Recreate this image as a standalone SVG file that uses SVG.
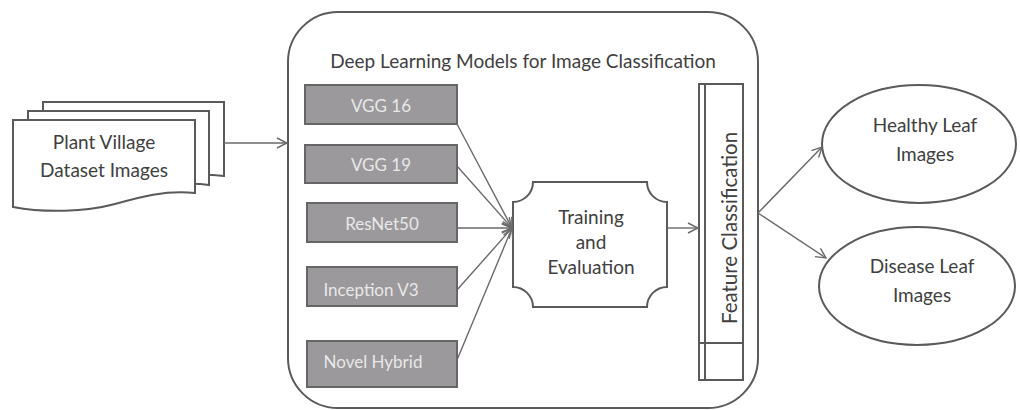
<svg xmlns="http://www.w3.org/2000/svg" width="1020" height="410" viewBox="0 0 1020 410">
<defs>
<style>
.shape{fill:#fff;stroke:#5a5a5a;stroke-width:2}
.model{fill:#9b999c;stroke:#666;stroke-width:2}
.t{font-family:Lato,"Open Sans",sans-serif;font-size:19px;fill:#404040;text-anchor:middle}
.mt{font-family:Lato,"Open Sans",sans-serif;font-size:17px;fill:#e8e8e8;text-anchor:middle}
.conn{fill:none;stroke:#6a6a6a;stroke-width:1.4}
</style>
<marker id="arr" viewBox="0 0 12 12" refX="11" refY="6" markerWidth="12" markerHeight="12" markerUnits="userSpaceOnUse" orient="auto">
<path d="M1,1 L11,6 L1,11" fill="none" stroke="#6a6a6a" stroke-width="1.4"/>
</marker>
</defs>
<rect width="1020" height="410" fill="#fff"/>

<g id="dataset">
<path class="shape" d="M43,102 H224 V176 C190,172 160,178 130,184 L43,184 Z"/>
<path class="shape" d="M28,111 H209 V185 C180,181 150,188 120,194 L28,194 Z"/>
<path class="shape" d="M13,120 H195 V193 C165,190 140,197 115,204 C85,212 45,213 13,207 Z"/>
<text class="t" x="104" y="149">Plant Village</text>
<text class="t" x="104" y="177">Dataset Images</text>
</g>

<g id="container">
<rect class="shape" x="288" y="12" width="470" height="396" rx="50" ry="50"/>
<text class="t" x="523" y="68">Deep Learning Models for Image Classification</text>
</g>

<g id="vgg16">
<rect class="model" x="305" y="85" width="152" height="39"/>
<text class="mt" x="381" y="112">VGG 16</text>
</g>
<g id="vgg19">
<rect class="model" x="305" y="145" width="152" height="38"/>
<text class="mt" x="381" y="171">VGG 19</text>
</g>
<g id="resnet50">
<rect class="model" x="307" y="203" width="150" height="39"/>
<text class="mt" x="382" y="230">ResNet50</text>
</g>
<g id="inception">
<rect class="model" x="307" y="267" width="150" height="39"/>
<text class="mt" x="371" y="296">Inception V3</text>
</g>
<g id="hybrid">
<rect class="model" x="307" y="341" width="150" height="46"/>
<text class="mt" x="373" y="368">Novel Hybrid</text>
</g>

<g id="training">
<path class="shape" d="M533,182 H647 A20,20 0 0 0 667,202 V287 A20,20 0 0 0 647,307 H533 A20,20 0 0 0 513,287 V202 A20,20 0 0 0 533,182 Z"/>
<text class="t" x="591" y="224">Training</text>
<text class="t" x="591" y="249">and</text>
<text class="t" x="591" y="274">Evaluation</text>
</g>

<g id="feature">
<rect class="shape" x="699" y="84" width="44" height="296"/>
<line x1="705" y1="84" x2="705" y2="380" stroke="#5a5a5a" stroke-width="2"/>
<line x1="699" y1="343" x2="743" y2="343" stroke="#5a5a5a" stroke-width="2"/>
<text class="t" style="font-size:20.5px" transform="translate(737,228) rotate(-90)" x="0" y="0">Feature Classification</text>
</g>

<g id="healthy">
<ellipse class="shape" cx="919" cy="144" rx="97" ry="59"/>
<text class="t" x="925" y="132">Healthy Leaf</text>
<text class="t" x="925" y="161">Images</text>
</g>
<g id="disease">
<ellipse class="shape" cx="917" cy="286" rx="98" ry="59"/>
<text class="t" x="922" y="273">Disease Leaf</text>
<text class="t" x="922" y="302">Images</text>
</g>

<g id="connectors">
<line class="conn" x1="224" y1="143" x2="287" y2="143" marker-end="url(#arr)"/>
<line class="conn" x1="457" y1="124" x2="512" y2="228" marker-end="url(#arr)"/>
<line class="conn" x1="457" y1="166" x2="512" y2="228" marker-end="url(#arr)"/>
<line class="conn" x1="457" y1="228" x2="512" y2="228" marker-end="url(#arr)"/>
<line class="conn" x1="457" y1="290" x2="512" y2="228" marker-end="url(#arr)"/>
<line class="conn" x1="457" y1="360" x2="512" y2="228" marker-end="url(#arr)"/>
<line class="conn" x1="667" y1="228" x2="698" y2="228" marker-end="url(#arr)"/>
<line class="conn" x1="758" y1="213" x2="822" y2="147" marker-end="url(#arr)"/>
<line class="conn" x1="758" y1="213" x2="826" y2="258" marker-end="url(#arr)"/>
</g>
</svg>
